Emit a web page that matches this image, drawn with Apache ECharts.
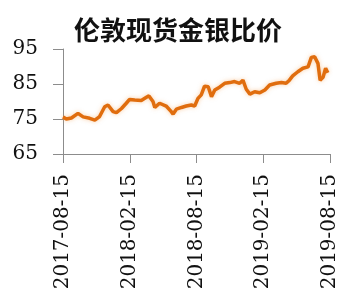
<!DOCTYPE html>
<html>
<head>
<meta charset="utf-8">
<script src="https://cdn.jsdelivr.net/npm/echarts@6/dist/echarts.min.js"></script>
<style>
  html, body { margin: 0; padding: 0; background: #fff; }
  #chart { width: 344px; height: 305px; }
</style>
</head>
<body>
<div id="chart"></div>
<script>
// 伦敦现货金银比价, values
var dates = [
  '2017-08-15','2017-08-24','2017-09-07','2017-09-25','2017-10-09','2017-10-27','2017-11-10','2017-11-23',
  '2017-12-07','2017-12-16','2017-12-30','2018-01-08','2018-01-22','2018-02-04','2018-02-13','2018-02-27',
  '2018-03-17','2018-03-31','2018-04-07','2018-04-18','2018-04-23','2018-05-06','2018-05-24','2018-06-07',
  '2018-06-12','2018-06-21','2018-07-05','2018-07-18','2018-08-01','2018-08-10','2018-08-19','2018-08-28',
  '2018-09-06','2018-09-16','2018-09-25','2018-10-04','2018-10-17','2018-10-31','2018-11-14','2018-11-27',
  '2018-12-11','2018-12-20','2018-12-29','2019-01-08','2019-01-21','2019-02-04','2019-02-18','2019-03-03',
  '2019-03-21','2019-04-04','2019-04-17','2019-04-26','2019-05-05','2019-05-19','2019-06-02','2019-06-16',
  '2019-06-25','2019-07-04','2019-07-13','2019-07-19','2019-07-27','2019-08-03','2019-08-09'
];
var ratio = [
  75.6, 75.0, 75.3, 76.6, 75.6, 75.2, 74.7, 75.7,
  78.5, 79.0, 77.1, 76.8, 78.0, 79.5, 80.6, 80.4,
  80.3, 81.2, 81.6, 80.0, 78.3, 79.5, 78.7, 77.1,
  76.4, 77.8, 78.3, 78.7, 79.0, 78.7, 80.9, 81.9,
  84.4, 84.2, 81.4, 83.3, 84.1, 85.2, 85.4, 85.7,
  85.2, 86.1, 83.5, 82.1, 82.8, 82.5, 83.3, 84.7,
  85.2, 85.4, 85.2, 86.1, 87.3, 88.5, 89.5, 89.9,
  92.6, 92.8, 90.9, 86.1, 86.9, 89.5, 88.2
];
var tickLabels = ['2017-08-15', '2018-02-15', '2018-08-15', '2019-02-15', '2019-08-15'];
var yMin = 65, yMax = 95, yStep = 10;

var start = Date.UTC(2017, 7, 15);
var dayMs = 86400000;
var seriesData = dates.map(function (d, i) {
  var p = d.split('-');
  var t = Date.UTC(+p[0], +p[1] - 1, +p[2]);
  return [(t - start) / dayMs, ratio[i]];
});

var axisColor = '#8c8c8c';
var labelFont = { color: '#111', fontSize: 20, fontFamily: 'DejaVu Serif' };

var myChart = echarts.init(document.getElementById('chart'));
myChart.setOption({
  animation: false,
  title: {
    text: '伦敦现货金银比价',
    left: 173,
    top: 12,
    textAlign: 'center',
    textStyle: { fontSize: 26, fontWeight: 'bold', color: '#111', fontFamily: 'Noto Sans CJK SC' }
  },
  grid: { left: 63, right: 14, top: 49, bottom: 151 },
  xAxis: {
    type: 'value',
    min: 0,
    max: 730,
    interval: 182.5,
    splitLine: { show: false },
    axisLine: { show: true, lineStyle: { color: axisColor, width: 1 } },
    axisTick: { show: true, length: 9, lineStyle: { color: axisColor } },
    axisLabel: Object.assign({
      rotate: 90,
      margin: 20,
      formatter: function (v) { return tickLabels[Math.round(v / 182.5)]; }
    }, labelFont)
  },
  yAxis: {
    type: 'value',
    min: yMin,
    max: yMax,
    interval: yStep,
    splitLine: { show: false },
    axisLine: { show: true, lineStyle: { color: axisColor, width: 1 } },
    axisTick: { show: true, length: 10, lineStyle: { color: axisColor } },
    axisLabel: Object.assign({ margin: 25 }, labelFont)
  },
  series: [{
    type: 'line',
    data: seriesData,
    showSymbol: false,
    lineStyle: { color: '#e06d0e', width: 3.5, shadowColor: 'rgba(245,160,80,0.5)', shadowBlur: 4 }
  }]
});
</script>
</body>
</html>
